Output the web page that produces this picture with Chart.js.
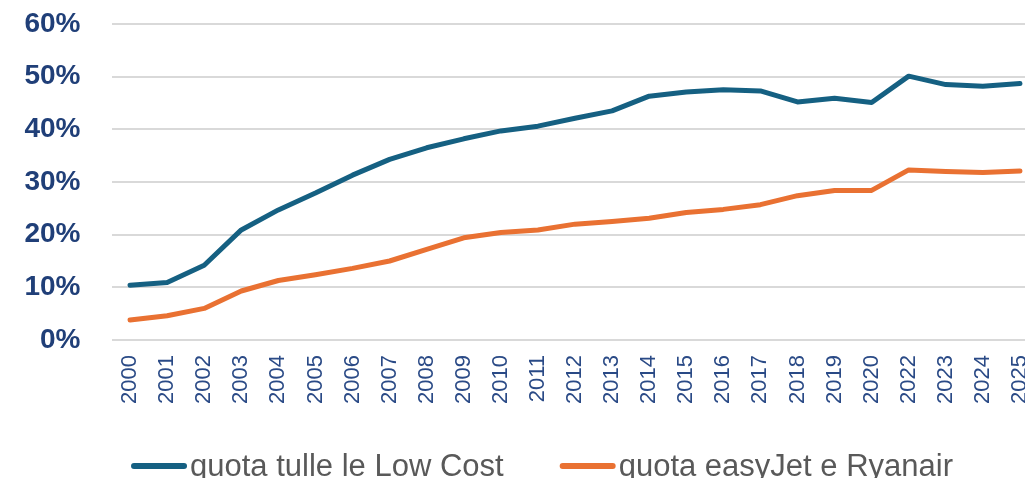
<!DOCTYPE html>
<html>
<head>
<meta charset="utf-8">
<script src="https://cdn.jsdelivr.net/npm/chart.js"></script>
<style>
  html, body { margin: 0; padding: 0; background: #fff; }
  #wrap { width: 1025px; height: 478px; overflow: hidden; position: relative; }
  canvas { display: block; }
</style>
</head>
<body>
<div id="wrap"><canvas id="chart" width="1040" height="478"></canvas></div>
<script>
// == Data ==
const years = ["2000", "2001", "2002", "2003", "2004", "2005", "2006", "2007", "2008", "2009",
  "2010", "2011", "2012", "2013", "2014", "2015", "2016", "2017", "2018", "2019",
  "2020", "2022", "2023", "2024", "2025"];
const lowCostShare = [10.4, 10.9, 14.2, 20.9, 24.7, 27.9, 31.3, 34.3, 36.5, 38.2,
  39.7, 40.6, 42.1, 43.5, 46.3, 47.1, 47.5, 47.3, 45.2, 45.9,
  45.1, 50.1, 48.5, 48.2, 48.7];
const easyRyanShare = [3.8, 4.6, 6.0, 9.3, 11.3, 12.4, 13.6, 15.0, 17.2, 19.4,
  20.4, 20.9, 22.0, 22.5, 23.1, 24.2, 24.8, 25.7, 27.4, 28.4,
  28.4, 32.3, 32.0, 31.8, 32.1];
const seriesNames = ["quota tulle le Low Cost", "quota easyJet e Ryanair"];
const yTicks = [0, 10, 20, 30, 40, 50, 60];

// == Colours ==
const blue = "#156082";
const orange = "#e97132";

// == Legend drawn under the plot ==
const bottomLegend = {
  id: "bottomLegend",
  afterDraw(chart) {
    const ctx = chart.ctx;
    ctx.save();
    ctx.font = "31px 'Liberation Sans', Arial, sans-serif";
    ctx.textBaseline = "alphabetic";
    const sample = 56, gap = 3, between = 56;
    const items = chart.data.datasets.map(ds => ({
      color: ds.borderColor, text: ds.label, w: ctx.measureText(ds.label).width
    }));
    let total = 0;
    items.forEach((it, i) => { total += sample + gap + it.w + (i ? between : 0); });
    let x = 542 - total / 2;
    const y = 466;
    items.forEach(it => {
      ctx.strokeStyle = it.color;
      ctx.lineWidth = 6;
      ctx.lineCap = "round";
      ctx.beginPath();
      ctx.moveTo(x + 3, y);
      ctx.lineTo(x + sample - 3, y);
      ctx.stroke();
      x += sample + gap;
      ctx.fillStyle = "#595959";
      ctx.fillText(it.text, x, y + 10);
      x += it.w + between;
    });
    ctx.restore();
  }
};

// == Chart ==
new Chart(document.getElementById("chart"), {
  type: "line",
  data: {
    labels: years,
    datasets: [
      { label: seriesNames[0], data: lowCostShare, borderColor: blue, backgroundColor: blue },
      { label: seriesNames[1], data: easyRyanShare, borderColor: orange, backgroundColor: orange }
    ]
  },
  options: {
    responsive: false,
    animation: false,
    devicePixelRatio: 1,
    elements: {
      line: { borderWidth: 5, tension: 0, borderCapStyle: "round", borderJoinStyle: "round" },
      point: { radius: 0, hoverRadius: 0 }
    },
    layout: { padding: { top: 24, left: 20, right: 1.5, bottom: 73 } },
    plugins: {
      legend: { display: false },
      tooltip: { enabled: false }
    },
    scales: {
      x: {
        offset: true,
        grid: { display: false, drawTicks: false },
        border: { display: false },
        afterFit(scale) {
          scale.height = 65;
          scale.paddingLeft = 0;
          scale.paddingRight = 0;
        },
        ticks: {
          minRotation: 90, maxRotation: 90, autoSkip: false, padding: 15,
          color: "#2a4a86",
          font: { family: "'Liberation Sans', Arial, sans-serif", size: 22 }
        }
      },
      y: {
        min: yTicks[0],
        max: yTicks[yTicks.length - 1],
        afterBuildTicks(scale) { scale.ticks = yTicks.map(v => ({ value: v })); },
        afterFit(scale) {
          scale.width = 91.5;
          scale.paddingTop = 0;
          scale.paddingBottom = 0;
        },
        grid: { color: "#d9d9d9", lineWidth: 2, drawTicks: false },
        border: { display: false },
        ticks: {
          padding: 31,
          color: "#203f78",
          font: { family: "'Liberation Sans', Arial, sans-serif", size: 28, weight: "bold" },
          callback: v => v + "%"
        }
      }
    }
  },
  plugins: [bottomLegend]
});
</script>
</body>
</html>
